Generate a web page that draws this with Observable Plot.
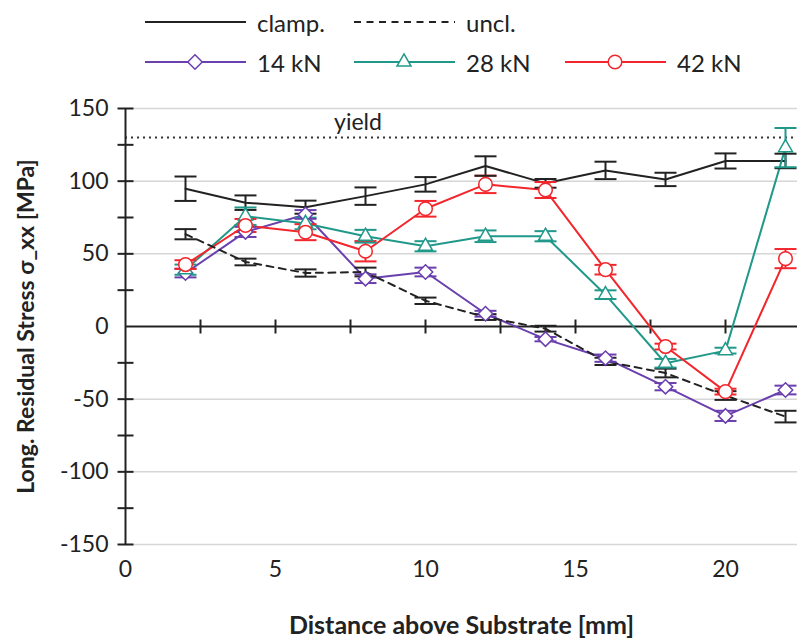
<!DOCTYPE html>
<html><head><meta charset="utf-8">
<script src="https://cdn.jsdelivr.net/npm/d3@7"></script>
<script src="https://cdn.jsdelivr.net/npm/@observablehq/plot@0.6"></script>
<style>
body{margin:0;background:#fff;font-family:Lato,"Open Sans",sans-serif;}
#wrap{position:relative;width:798px;height:643px;overflow:hidden;background:#fff}
#legend{position:relative;height:88px;}
.entry{position:absolute;display:flex;align-items:center;font-size:24px;color:#222;height:30px;}
.entry span{margin-left:11px;white-space:nowrap}
</style></head><body><div id="wrap"><div id="legend"></div><div id="chart"></div></div>
<script>
// ---- data ----
const distance = [2, 4, 6, 8, 10, 12, 14, 16, 18, 20, 22];
const seriesNames = ["clamp.", "uncl.", "14 kN", "28 kN", "42 kN"];
const seriesColors = ["#222222", "#222222", "#6a3fae", "#21998a", "#f2262c"];
const seriesSymbols = [null, null, "diamond2", "triangle", "circle"];
const clampValues = [94.8, 85.2, 82.1, 89.7, 97.8, 110.4, 98.5, 107.4, 101.2, 113.9, 113.9];
const clampErr    = [8.4, 5, 4.5, 6, 5, 6.7, 3, 6, 4.6, 5.2, 5];
const unclValues  = [63.5, 44.4, 36.8, 37.5, 17.7, 6.5, -1.5, -24, -32, -47.5, -62];
const unclErr     = [3.5, 2.3, 2.5, 3, 2.2, 2, 2, 2.5, 3, 3, 4];
const kn14Values  = [36.8, 65.1, 77.1, 32.9, 37.5, 8.8, -8.7, -21.8, -41.4, -61.5, -43.7];
const kn14Err     = [3, 3.5, 3, 3, 3, 2, 1.5, 2.5, 2.5, 3.5, 3];
const kn28Values  = [39.1, 75.9, 70.9, 62.1, 55.2, 62.1, 62.1, 21.9, -25.3, -16.6, 123.1];
const kn28Err     = [3.5, 6, 4, 4.4, 3.5, 4, 3.5, 3, 3, 2, 13.5];
const kn42Values  = [42.6, 69.5, 64.9, 51.8, 81, 97.8, 93.9, 39.1, -13.8, -44.8, 46.7];
const kn42Err     = [3, 4.5, 5.5, 7, 5.4, 6, 5.5, 3.3, 2, 2, 6.6];
const yieldValue = 130;
const yieldLabel = [{x: 7.75, y: 130, text: "yield"}];
const xTickLabels = [0, 5, 10, 15, 20];
const xMinorTicks = [2.5, 5, 7.5, 10, 12.5, 15, 17.5, 20];
const yTickLabels = [-150, -100, -50, 0, 50, 100, 150];
const yMinorTicks = [-150, -125, -100, -75, -50, -25, 25, 50, 75, 100, 125, 150];
const gridValues = [-150, -100, -50, 50, 100, 150];
const xTitle = "Distance above Substrate [mm]";
const yTitle = "Long. Residual Stress σ_xx [MPa]";

const allValues = [clampValues, unclValues, kn14Values, kn28Values, kn42Values];
const allErr = [clampErr, unclErr, kn14Err, kn28Err, kn42Err];
const rows = [];
seriesNames.forEach((s, i) => distance.forEach((x, j) =>
  rows.push({series: s, x, y: allValues[i][j], err: allErr[i][j], symbol: seriesSymbols[i]})));

const markerR = {diamond2: 6.5, triangle: 5.2, circle: 6.8};

// ---- legend ----
const legend = document.getElementById("legend");
const legendPos = [[145, 7], [354, 7], [145, 47], [354, 47], [565, 47]];
seriesNames.forEach((s, i) => {
  const e = document.createElement("div");
  e.className = "entry";
  e.style.left = legendPos[i][0] + "px";
  e.style.top = legendPos[i][1] + "px";
  const dash = s === "uncl." ? 'stroke-dasharray="7,5.5"' : "";
  let marker = "";
  if (seriesSymbols[i]) {
    const sym = seriesSymbols[i];
    const t = {diamond2: d3.symbolDiamond2, triangle: d3.symbolTriangle, circle: d3.symbolCircle}[sym];
    const p = d3.symbol(t, Math.PI * markerR[sym] * markerR[sym])();
    marker = `<path d="${p}" transform="translate(50,10)" fill="#fff" stroke="${seriesColors[i]}" stroke-width="1.5"/>`;
  }
  e.innerHTML = `<svg width="101" height="20"><line x1="0" x2="101" y1="10" y2="10" stroke="${seriesColors[i]}" stroke-width="2" ${dash}/>${marker}</svg><span>${s}</span>`;
  legend.appendChild(e);
});

// ---- symbols ----
const hSym = {draw(ctx, size) { const w = Math.sqrt(size / Math.PI); ctx.moveTo(-w, 0); ctx.lineTo(w, 0); }};
const vSym = {draw(ctx, size) { const w = Math.sqrt(size / Math.PI); ctx.moveTo(0, -w); ctx.lineTo(0, w); }};

const markerMarks = Object.keys(markerR).map(sym =>
  Plot.dot(rows.filter(d => d.symbol === sym), {x: "x", y: "y", symbol: sym, r: markerR[sym], fill: "#fff", stroke: "series", strokeWidth: 1.5}));

const chart = Plot.plot({
  width: 798, height: 555,
  marginLeft: 125, marginRight: 1, marginTop: 20, marginBottom: 99,
  style: {fontFamily: "Lato, 'Open Sans', sans-serif", fontSize: "23px", background: "#fff", overflow: "visible"},
  x: {domain: [0, 22.4], label: null},
  y: {domain: [-150, 150], label: null},
  color: {domain: seriesNames, range: seriesColors},
  marks: [
    Plot.ruleY(gridValues, {stroke: "#d6d6d6", strokeWidth: 1.5}),
    Plot.ruleY([yieldValue], {stroke: "#333", strokeWidth: 2, strokeDasharray: "2,4"}),
    Plot.text(yieldLabel, {x: "x", y: "y", text: "text", dy: -15, fontSize: 23, fill: "#222", textAnchor: "middle", lineAnchor: "middle"}),
    Plot.ruleY([0], {stroke: "#222", strokeWidth: 2}),
    Plot.ruleX([0], {stroke: "#222", strokeWidth: 2}),
    Plot.dot(yMinorTicks, {x: 0, y: d => d, symbol: hSym, r: 8, stroke: "#222", strokeWidth: 2, fill: "none"}),
    Plot.dot(xMinorTicks, {x: d => d, y: 0, symbol: vSym, r: 7, stroke: "#222", strokeWidth: 2, fill: "none"}),
    Plot.axisX({ticks: xTickLabels, tickSize: 0, tickPadding: 16, fontSize: 23, fill: "#222", tickFormat: d => String(d), label: null}),
    Plot.axisY({ticks: yTickLabels, tickSize: 0, tickPadding: 17, fontSize: 23, fill: "#222", tickFormat: d => String(d), label: null}),
    Plot.line(rows.filter(d => d.series !== "uncl."), {x: "x", y: "y", z: "series", stroke: "series", strokeWidth: 2}),
    Plot.line(rows.filter(d => d.series === "uncl."), {x: "x", y: "y", stroke: "series", strokeWidth: 2, strokeDasharray: "7,5.5"}),
    Plot.ruleX(rows, {x: "x", y1: d => d.y - d.err, y2: d => d.y + d.err, stroke: "series", strokeWidth: 2}),
    Plot.dot(rows, {x: "x", y: d => d.y + d.err, symbol: hSym, r: 11, stroke: "series", strokeWidth: 2, fill: "none"}),
    Plot.dot(rows, {x: "x", y: d => d.y - d.err, symbol: hSym, r: 11, stroke: "series", strokeWidth: 2, fill: "none"}),
    ...markerMarks,
    Plot.text([yTitle], {frameAnchor: "left", rotate: -90, dx: -99, fontWeight: "bold", fontSize: 23, fill: "#222", textAnchor: "middle", lineAnchor: "middle"}),
    Plot.text([xTitle], {frameAnchor: "bottom", dy: 81, fontWeight: "bold", fontSize: 25, fill: "#222", textAnchor: "middle", lineAnchor: "middle"})
  ]
});
document.getElementById("chart").appendChild(chart);
</script></body></html>
